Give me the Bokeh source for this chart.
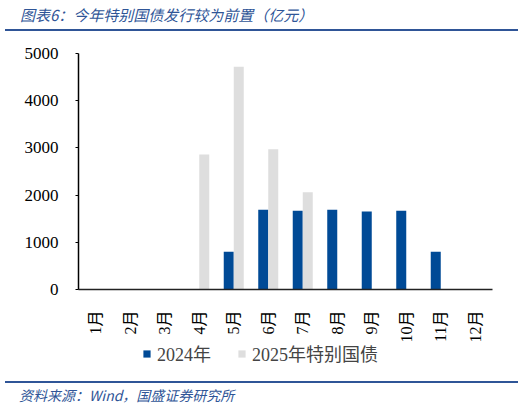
from math import pi

from bokeh.embed import file_html
from bokeh.layouts import column
from bokeh.models import ColumnDataSource, Div, Legend, LegendItem
from bokeh.plotting import figure
from bokeh.resources import INLINE
from bokeh.transform import dodge

# datos (亿元)
months = ["1月", "2月", "3月", "4月", "5月", "6月", "7月", "8月", "9月", "10月", "11月", "12月"]
v2024 = [0, 0, 0, 0, 800, 1690, 1670, 1690, 1650, 1670, 800, 0]
v2025 = [0, 0, 0, 2860, 4720, 2970, 2060, 0, 0, 0, 0, 0]
series_names = ["2024年", "2025年特别国债"]

title_text = "图表6：今年特别国债发行较为前置（亿元）"
source_text = "资料来源：Wind，国盛证券研究所"

BLUE = "#004A96"
GREY = "#DEDEDE"
HEAD = "#2F5597"
SERIF = "Liberation Serif, Noto Sans CJK SC"
CJK = "Noto Sans CJK SC"
W = 526
SANGRIA = "&ensp;&ensp;"  # sangria del texto respecto a la linea azul

# cabecera y pie como texto html (titulo / fuente + linea azul)
estilo = {"font-family": CJK, "font-style": "italic", "color": HEAD,
          "white-space": "nowrap", "box-sizing": "border-box"}
header = Div(text=SANGRIA + title_text, width=513, height=31, margin=(0, 8, 13, 5),
             styles=dict(estilo, **{"font-size": "15px", "line-height": "20px",
                                    "padding": "5px 0 0 0",
                                    "border-bottom": f"2px solid {HEAD}"}))
footer = Div(text=SANGRIA + source_text, width=513, height=26, margin=(9, 8, 0, 5),
             styles=dict(estilo, **{"font-size": "14px", "line-height": "18px",
                                    "padding": "3px 0 0 0",
                                    "border-top": f"2px solid {HEAD}"}))

src = ColumnDataSource(data=dict(month=months, a=v2024, b=v2025))

p = figure(width=W, height=301, x_range=months, y_range=(0, 5000),
           min_border_left=78, min_border_right=34, min_border_top=9,
           min_border_bottom=56, toolbar_location=None, output_backend="svg")
p.outline_line_color = None
p.grid.grid_line_color = None

p.vbar(x=dodge("month", -0.145, range=p.x_range), top="a", width=0.29,
       source=src, fill_color=BLUE, line_color=None)
p.vbar(x=dodge("month", 0.145, range=p.x_range), top="b", width=0.29,
       source=src, fill_color=GREY, line_color=None)

# eje y
p.yaxis.ticker = [0, 1000, 2000, 3000, 4000, 5000]
p.yaxis.minor_tick_line_color = None
p.yaxis.major_tick_in = 0
p.yaxis.major_tick_out = 3
p.yaxis.major_label_standoff = 17
p.yaxis.axis_line_width = 1.5
p.yaxis.axis_line_color = "black"
p.yaxis.major_tick_line_color = "black"
p.yaxis.major_label_text_font = SERIF
p.yaxis.major_label_text_font_size = "17px"
p.yaxis.major_label_text_color = "black"

# eje x
p.xaxis.major_tick_line_color = None
p.xaxis.axis_line_width = 1.5
p.xaxis.axis_line_color = "#222222"
p.xaxis.major_label_orientation = pi / 2
p.xaxis.major_label_standoff = 15
p.xaxis.major_label_text_font = SERIF
p.xaxis.major_label_text_font_size = "16px"
p.xaxis.major_label_text_color = "black"

# leyenda en su propia franja (muestras de altura cero con los mismos colores)
leg = figure(width=W, height=27, x_range=(0, 1), y_range=(0, 1),
             min_border_left=78, min_border_right=34, min_border_top=0, min_border_bottom=0,
             x_axis_type=None, y_axis_type=None, toolbar_location=None, output_backend="svg")
leg.outline_line_color = None
leg.grid.grid_line_color = None
m1 = leg.vbar(x=[0], top=[0], width=0, fill_color=BLUE, line_color=None)
m2 = leg.vbar(x=[0], top=[0], width=0, fill_color=GREY, line_color=None)
legend = Legend(items=[LegendItem(label=series_names[0], renderers=[m1]),
                       LegendItem(label=series_names[1], renderers=[m2])],
                orientation="horizontal", location=(64, 6),
                padding=0, margin=0, spacing=26, label_standoff=6,
                glyph_width=9, glyph_height=9,
                label_text_font=SERIF, label_text_font_size="18px",
                border_line_color=None, background_fill_alpha=0)
leg.add_layout(legend, "center")

open("out.html", "w").write(file_html(column(header, p, leg, footer), INLINE))
